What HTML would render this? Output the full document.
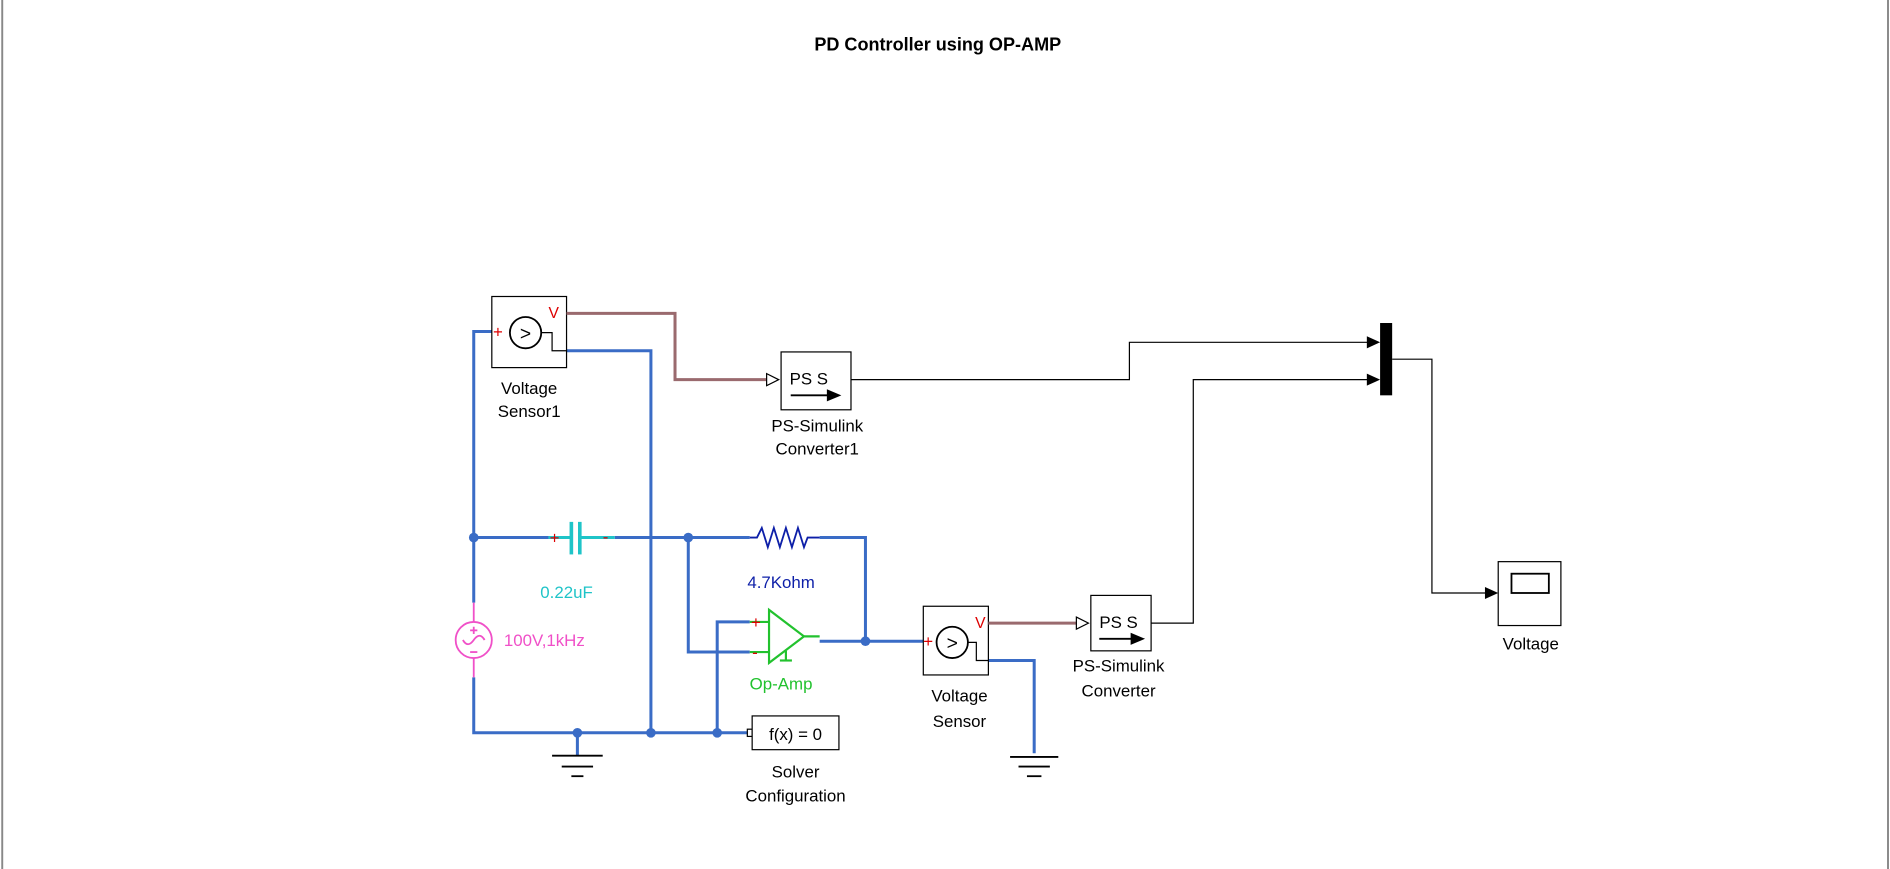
<!DOCTYPE html>
<html><head><style>html,body{margin:0;padding:0;background:#fff}svg{display:block}</style></head>
<body>
<svg width="1890" height="869" viewBox="0 0 1568 721" xmlns="http://www.w3.org/2000/svg" font-family="Liberation Sans, Arial, sans-serif">
<rect x="0" y="0" width="1568" height="721" fill="#fff"/>
<line x1="1.8" y1="0" x2="1.8" y2="721" stroke="#888" stroke-width="1.6"/>
<line x1="1566.4" y1="0" x2="1566.4" y2="721" stroke="#888" stroke-width="1.6"/>
<text x="778" y="42" font-size="15" font-weight="bold" text-anchor="middle">PD Controller using OP-AMP</text>
<g fill="none" stroke="#3a6cc6" stroke-width="2.5">
<polyline points="408,275 393,275 393,500"/>
<polyline points="393,562 393,608 620,608"/>
<polyline points="470,291 540,291 540,608"/>
<polyline points="393,446 455,446"/>
<polyline points="510,446 622,446"/>
<polyline points="680,446 718,446 718,532"/>
<polyline points="680,532 766,532"/>
<polyline points="571,446 571,541 622,541"/>
<polyline points="622,516 595,516 595,608"/>
<polyline points="479,608 479,627"/>
<polyline points="820,548 858,548 858,625"/>
</g>
<g fill="#3a6cc6">
<circle cx="393" cy="446" r="4"/><circle cx="571" cy="446" r="4"/><circle cx="718" cy="532" r="4"/>
<circle cx="479" cy="608" r="4"/><circle cx="540" cy="608" r="4"/><circle cx="595" cy="608" r="4"/>
</g>
<g stroke="#000" stroke-width="1.5">
<line x1="458" y1="627" x2="500" y2="627"/><line x1="466" y1="636" x2="492" y2="636"/><line x1="474" y1="644" x2="484" y2="644"/>
<line x1="838" y1="628" x2="878" y2="628"/><line x1="845" y1="636" x2="871" y2="636"/><line x1="852" y1="644" x2="864" y2="644"/>
</g>
<!-- capacitor -->
<g stroke="#1fc4c8" stroke-width="2.5"><line x1="455" y1="446" x2="474" y2="446"/><line x1="482" y1="446" x2="510" y2="446"/>
<line x1="474" y1="433" x2="474" y2="460" stroke-width="3"/><line x1="481" y1="433" x2="481" y2="460" stroke-width="3"/></g>
<text x="456" y="451" font-size="14" fill="#d00">+</text><text x="500" y="450" font-size="14" fill="#d00">-</text>
<text x="470" y="496" font-size="14" fill="#1fc4c8" text-anchor="middle">0.22uF</text>
<!-- resistor -->
<polyline points="622,446 628,446 632,438 637,454 642,438 647,454 652,438 657,454 662,438 667,454 670,446 680,446" fill="none" stroke="#0d1fa8" stroke-width="1.5"/>
<text x="648" y="488" font-size="14" fill="#0d1fa8" text-anchor="middle">4.7Kohm</text>
<!-- opamp -->
<g stroke="#22c22e" stroke-width="1.8" fill="none"><polygon points="638,506 638,550 667,528"/>
<line x1="622" y1="516" x2="638" y2="516"/><line x1="622" y1="541" x2="638" y2="541"/><line x1="667" y1="528" x2="680" y2="528"/>
<line x1="652" y1="540" x2="652" y2="548"/><line x1="647" y1="548" x2="657" y2="548"/></g>
<text x="623" y="521" font-size="14" fill="#d00">+</text><text x="624" y="546" font-size="14" fill="#d00">-</text>
<text x="648" y="572" font-size="14" fill="#22c22e" text-anchor="middle">Op-Amp</text>
<!-- AC source -->
<g stroke="#f050c8" stroke-width="1.5" fill="none"><circle cx="393" cy="531" r="15"/><line x1="393" y1="500" x2="393" y2="516"/><line x1="393" y1="546" x2="393" y2="562"/>
<path d="M384,531 Q388,538 393,531 Q398,524 402,531"/><line x1="390" y1="523" x2="396" y2="523"/><line x1="393" y1="520" x2="393" y2="526"/><line x1="390" y1="541" x2="396" y2="541"/></g>
<text x="418" y="536" font-size="14" fill="#f050c8">100V,1kHz</text>
<!-- sensor1 -->
<rect x="408" y="246" width="62" height="59" fill="#fff" stroke="#000"/>
<circle cx="436" cy="276" r="13" fill="none" stroke="#000" stroke-width="1.5"/>
<text x="436" y="282" font-size="16" text-anchor="middle">&gt;</text>
<polyline points="449,276 458,276 458,291 470,291" fill="none" stroke="#000"/>
<text x="455" y="264" font-size="13" fill="#d00">V</text><text x="409" y="280" font-size="14" fill="#d00">+</text>
<text x="439" y="327" font-size="14" text-anchor="middle">Voltage</text><text x="439" y="346" font-size="14" text-anchor="middle">Sensor1</text>
<!-- sensor2 -->
<rect x="766" y="503" width="54" height="57" fill="#fff" stroke="#000"/>
<circle cx="790" cy="533" r="13" fill="none" stroke="#000" stroke-width="1.5"/>
<text x="790" y="539" font-size="16" text-anchor="middle">&gt;</text>
<polyline points="803,533 810,533 810,548 820,548" fill="none" stroke="#000"/>
<text x="809" y="521" font-size="13" fill="#d00">V</text><text x="766" y="537" font-size="14" fill="#d00">+</text>
<text x="796" y="582" font-size="14" text-anchor="middle">Voltage</text><text x="796" y="603" font-size="14" text-anchor="middle">Sensor</text>
<!-- brown wires -->
<g stroke="#9a6a6e" stroke-width="2.5" fill="none"><polyline points="470,260 560,260 560,315 636,315"/><polyline points="820,517 893,517"/></g>
<polygon points="636,310 646,315 636,320" fill="#fff" stroke="#000"/>
<polygon points="893,512 903,517 893,522" fill="#fff" stroke="#000"/>
<!-- PS converters -->
<rect x="648" y="292" width="58" height="48" fill="#fff" stroke="#000"/>
<text x="671" y="319" font-size="14" text-anchor="middle">PS S</text>
<line x1="656" y1="328" x2="688" y2="328" stroke="#000" stroke-width="1.5"/><polygon points="686,323 698,328 686,333"/>
<text x="678" y="358" font-size="14" text-anchor="middle">PS-Simulink</text><text x="678" y="377" font-size="14" text-anchor="middle">Converter1</text>
<rect x="905" y="494" width="50" height="46" fill="#fff" stroke="#000"/>
<text x="928" y="521" font-size="14" text-anchor="middle">PS S</text>
<line x1="912" y1="530" x2="940" y2="530" stroke="#000" stroke-width="1.5"/><polygon points="938,525 950,530 938,535"/>
<text x="928" y="557" font-size="14" text-anchor="middle">PS-Simulink</text><text x="928" y="578" font-size="14" text-anchor="middle">Converter</text>
<!-- signal lines -->
<g stroke="#000" fill="none"><polyline points="706,315 937,315 937,284 1136,284"/><polyline points="955,517 990,517 990,315 1136,315"/><polyline points="1155,298 1188,298 1188,492 1234,492"/></g>
<polygon points="1134,279 1145,284 1134,289"/><polygon points="1134,310 1145,315 1134,320"/><polygon points="1232,487 1243,492 1232,497"/>
<rect x="1145" y="268" width="10" height="60" fill="#000"/>
<!-- scope -->
<rect x="1243" y="466" width="52" height="53" fill="#fff" stroke="#000"/>
<rect x="1254" y="476" width="31" height="16" fill="#fff" stroke="#000" stroke-width="1.5"/>
<text x="1270" y="539" font-size="14" text-anchor="middle">Voltage</text>
<!-- solver -->
<rect x="620" y="605" width="4" height="6" fill="#fff" stroke="#000"/>
<rect x="624" y="594" width="72" height="28" fill="#fff" stroke="#000"/>
<text x="660" y="614" font-size="14" text-anchor="middle">f(x) = 0</text>
<text x="660" y="645" font-size="14" text-anchor="middle">Solver</text><text x="660" y="665" font-size="14" text-anchor="middle">Configuration</text>
</svg>
</body></html>
